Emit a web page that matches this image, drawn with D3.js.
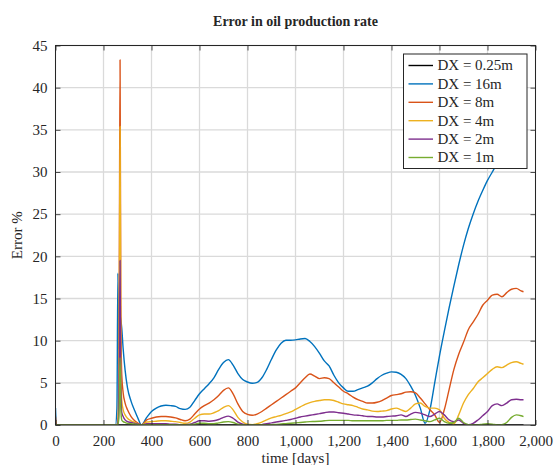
<!DOCTYPE html>
<html>
<head>
<meta charset="utf-8">
<script src="https://cdn.jsdelivr.net/npm/d3@7/dist/d3.min.js"></script>
<style>
  html, body { margin: 0; padding: 0; background: #fff; }
  svg { display: block; }
  text { font-family: "Liberation Serif", "DejaVu Serif", serif; fill: #262626; }
</style>
</head>
<body>
<svg id="chart" width="557" height="465"></svg>
<script>
// Sample times (days)
const days = [0, 4, 250, 256, 260, 263, 266, 269, 272, 276, 282, 290, 300, 315, 330, 345, 358,
  380, 400, 420, 440, 460, 480, 500, 520, 540, 560, 580, 600, 620, 640, 660, 680, 700, 720, 740, 760,
  780, 800, 820, 840, 860, 880, 900, 920, 940, 960, 980, 1000, 1020, 1040, 1060, 1080, 1100, 1120, 1140, 1160,
  1180, 1200, 1220, 1240, 1260, 1280, 1300, 1320, 1340, 1360, 1380, 1400, 1420, 1440, 1460, 1480, 1500, 1520,
  1540, 1560, 1580, 1600, 1620, 1640, 1660, 1680, 1700, 1720, 1740, 1760, 1780, 1800, 1820, 1840, 1860, 1880,
  1900, 1920, 1940, 1950];

// Error % per grid resolution
const err025 = days.map(() => 0);
const err16 = [2.0, 0, 0, 2, 18, 9, 12, 13, 12.5, 11.5, 9, 6.5, 4.4, 2.8, 1.7, 0.7, 0,
  0.9, 1.6, 2.0, 2.25, 2.35, 2.3, 2.2, 1.95, 1.85, 2.1, 2.9, 3.7, 4.3, 4.9, 5.6, 6.6, 7.4, 7.75, 7.1, 6.1,
  5.4, 5.1, 4.95, 5.05, 5.6, 6.6, 7.8, 8.9, 9.7, 10.05, 10.05, 10.1, 10.2, 10.25, 9.9, 9.3, 8.5, 7.6, 7.0, 5.9,
  5.0, 4.4, 4.0, 4.0, 4.2, 4.4, 4.6, 5.0, 5.5, 5.9, 6.15, 6.3, 6.25, 6.0, 5.5, 4.6, 3.5, 2.0,
  0.2, 1.8, 5.0, 8.2, 11.1, 13.9, 16.5, 19.0, 21.3, 23.3, 25.0, 26.5, 27.8, 29.0, 30.0, 31.0, 31.8, 32.6,
  33.3, 33.9, 34.4, 34.6];
const err8 = [1.0, 0, 0, 0, 0.5, 3, 20, 43.3, 15, 6, 3.8, 2.6, 1.8, 1.0, 0.5, 0.2, 0,
  0.6, 0.8, 0.95, 1.0, 1.0, 0.95, 0.85, 0.65, 0.5, 0.7, 1.3, 1.9, 2.3, 2.6, 3.0, 3.5, 4.1, 4.4, 3.7, 2.5,
  1.6, 1.25, 1.15, 1.3, 1.6, 2.0, 2.4, 2.8, 3.2, 3.6, 4.0, 4.4, 5.0, 5.6, 6.05, 5.8, 5.5, 5.6, 5.5, 5.0,
  4.5, 4.0, 3.7, 3.3, 3.0, 2.8, 2.6, 2.6, 2.7, 2.9, 3.2, 3.5, 3.6, 3.7, 3.9, 3.95, 3.8, 3.2,
  2.5, 1.8, 1.2, 0.3, 1.8, 4.2, 6.6, 8.4, 9.8, 11.3, 12.2, 13.1, 14.2, 14.8, 15.4, 15.5, 15.2, 15.7,
  16.1, 16.2, 15.9, 15.8];
const err4 = [0.5, 0, 0, 0, 0.3, 2, 15, 35.4, 10, 3, 1.8, 1.2, 0.8, 0.5, 0.3, 0.1, 0,
  0.35, 0.4, 0.45, 0.5, 0.5, 0.45, 0.4, 0.3, 0.2, 0.35, 0.8, 1.2, 1.3, 1.3, 1.45, 1.7, 2.1, 2.3, 1.8, 0.9,
  0.35, 0.1, 0.05, 0.15, 0.35, 0.6, 0.85, 1.0, 1.15, 1.35, 1.55, 1.85, 2.15, 2.45, 2.65, 2.8, 2.9, 3.0, 3.0, 2.9,
  2.7, 2.5, 2.4, 2.3, 2.1, 1.9, 1.8, 1.65, 1.6, 1.65, 1.7, 1.9, 2.0, 1.8, 1.6, 2.0, 2.5, 2.6,
  2.2, 2.0, 2.0, 1.8, 0.8, 0.3, 0.15, 1.2, 2.6, 3.6, 4.3, 5.1, 5.6, 6.1, 6.6, 6.9, 6.8, 7.1,
  7.4, 7.5, 7.3, 7.2];
const err2 = [0.3, 0, 0, 0, 0.2, 1, 8, 19.5, 5, 1.5, 1.0, 0.6, 0.4, 0.3, 0.2, 0.1, 0,
  0.15, 0.15, 0.15, 0.15, 0.15, 0.1, 0.1, 0.05, 0.05, 0.1, 0.3, 0.5, 0.5, 0.45, 0.5, 0.65, 0.9, 1.05, 0.8, 0.35,
  0.1, 0.0, 0.0, 0.0, 0.05, 0.15, 0.25, 0.35, 0.45, 0.55, 0.65, 0.8, 0.95, 1.05, 1.15, 1.25, 1.35, 1.45, 1.55, 1.55,
  1.45, 1.4, 1.3, 1.2, 1.15, 1.1, 1.0, 1.0, 0.95, 0.95, 1.0, 1.05, 1.1, 1.2, 1.0, 1.3, 1.5, 1.4,
  1.2, 1.0, 1.3, 1.6, 1.2, 0.6, 0.4, 0.6, 0.2, 0.05, 0.2, 0.6, 1.1, 1.6, 2.3, 2.5, 2.3, 2.6,
  3.0, 3.05, 3.0, 3.0];
const err1 = [0.15, 0, 0, 0, 0.1, 0.5, 3, 8, 2, 0.6, 0.4, 0.3, 0.2, 0.15, 0.1, 0.05, 0,
  0.05, 0.05, 0.05, 0.05, 0.05, 0.05, 0.03, 0.02, 0.02, 0.05, 0.1, 0.2, 0.2, 0.15, 0.15, 0.25, 0.35, 0.4, 0.3, 0.1,
  0.0, 0.0, 0.0, 0.0, 0.0, 0.02, 0.05, 0.08, 0.12, 0.16, 0.2, 0.25, 0.3, 0.35, 0.4, 0.42, 0.45, 0.5, 0.55, 0.55,
  0.55, 0.55, 0.55, 0.5, 0.5, 0.5, 0.5, 0.5, 0.5, 0.5, 0.55, 0.55, 0.55, 0.6, 0.6, 0.65, 0.7, 0.6,
  0.5, 0.4, 0.6, 0.8, 0.4, 0.2, 0.3, 0.8, 0.3, 0.05, 0.0, 0.0, 0.1, 0.15, 0.1, 0.0, 0.05, 0.3,
  0.9, 1.2, 1.1, 1.0];

const seriesNames = ["DX = 0.25m", "DX = 16m", "DX = 8m", "DX = 4m", "DX = 2m", "DX = 1m"];
const seriesValues = [err025, err16, err8, err4, err2, err1];
const seriesColors = ["#000000", "#0072BD", "#D95319", "#EDB120", "#7E2F8E", "#77AC30"];

const xTicks = [0, 200, 400, 600, 800, 1000, 1200, 1400, 1600, 1800, 2000];
const yTicks = [0, 5, 10, 15, 20, 25, 30, 35, 40, 45];

const svg = d3.select("#chart");
const plotL = 55.5, plotR = 535.5, plotT = 45.5, plotB = 425;
const axisColor = "#262626";

const x = d3.scaleLinear().domain([0, 2000]).range([plotL, plotR]);
const y = d3.scaleLinear().domain([0, 45]).range([plotB, plotT]);

// grid
const grid = svg.append("g");
grid.selectAll(".gx").data(xTicks).join("line")
  .attr("x1", d => x(d)).attr("x2", d => x(d))
  .attr("y1", plotT).attr("y2", plotB)
  .attr("stroke", "#dadada").attr("stroke-width", 1.3);
grid.selectAll(".gy").data(yTicks).join("line")
  .attr("x1", plotL).attr("x2", plotR)
  .attr("y1", d => y(d)).attr("y2", d => y(d))
  .attr("stroke", "#dadada").attr("stroke-width", 1.3);

// curves
svg.append("clipPath").attr("id", "plotClip")
  .append("rect").attr("x", plotL).attr("y", plotT).attr("width", plotR - plotL).attr("height", plotB - plotT);

const line = d3.line()
  .x((d, i) => x(days[i]))
  .y(d => y(d))
  .curve(d3.curveMonotoneX);

const curves = svg.append("g").attr("clip-path", "url(#plotClip)");
seriesValues.forEach((vals, k) => {
  curves.append("path")
    .datum(vals)
    .attr("d", line)
    .attr("fill", "none")
    .attr("stroke", seriesColors[k])
    .attr("stroke-width", 1.4)
    .attr("stroke-linejoin", "round");
});

// axes with inward ticks on all four sides
const fmt = d3.format(",");
const axB = svg.append("g").attr("transform", `translate(0,${plotB})`)
  .call(d3.axisBottom(x).tickValues(xTicks).tickFormat(fmt).tickSizeInner(-5).tickSizeOuter(0).tickPadding(10));
const axT = svg.append("g").attr("transform", `translate(0,${plotT})`)
  .call(d3.axisTop(x).tickValues(xTicks).tickFormat("").tickSizeInner(-5).tickSizeOuter(0));
const axL = svg.append("g").attr("transform", `translate(${plotL},0)`)
  .call(d3.axisLeft(y).tickValues(yTicks).tickSizeInner(-5).tickSizeOuter(0).tickPadding(8));
const axR = svg.append("g").attr("transform", `translate(${plotR},0)`)
  .call(d3.axisRight(y).tickValues(yTicks).tickFormat("").tickSizeInner(-5).tickSizeOuter(0));
[axB, axT, axL, axR].forEach(g => {
  g.select(".domain").remove();
  g.selectAll(".tick line").attr("stroke", axisColor).attr("stroke-width", 0.8);
  g.selectAll("text").attr("font-size", 15).attr("fill", axisColor)
    .style("font-family", "'Liberation Serif', serif");
});

svg.append("rect")
  .attr("x", plotL).attr("y", plotT).attr("width", plotR - plotL).attr("height", plotB - plotT)
  .attr("fill", "none").attr("stroke", axisColor).attr("stroke-width", 1);

// titles
svg.append("text").attr("x", (plotL + plotR) / 2).attr("y", 26)
  .attr("text-anchor", "middle").attr("font-size", 14).attr("font-weight", "bold")
  .text("Error in oil production rate");
svg.append("text").attr("x", (plotL + plotR) / 2).attr("y", 463)
  .attr("text-anchor", "middle").attr("font-size", 15)
  .text("time [days]");
svg.append("text").attr("transform", `translate(22,${(plotT + plotB) / 2}) rotate(-90)`)
  .attr("text-anchor", "middle").attr("font-size", 15)
  .text("Error %");

// legend
const lg = svg.append("g");
lg.append("rect").attr("x", 403.5).attr("y", 54).attr("width", 123.5).attr("height", 114.5)
  .attr("fill", "#fff").attr("stroke", axisColor).attr("stroke-width", 1);
seriesNames.forEach((name, k) => {
  const yy = 65.5 + k * 18.4;
  lg.append("line").attr("x1", 408.5).attr("x2", 433).attr("y1", yy).attr("y2", yy)
    .attr("stroke", seriesColors[k]).attr("stroke-width", 1.4);
  lg.append("text").attr("x", 437.5).attr("y", yy + 4.8).attr("font-size", 15)
    .text(name);
});
</script>
</body>
</html>
